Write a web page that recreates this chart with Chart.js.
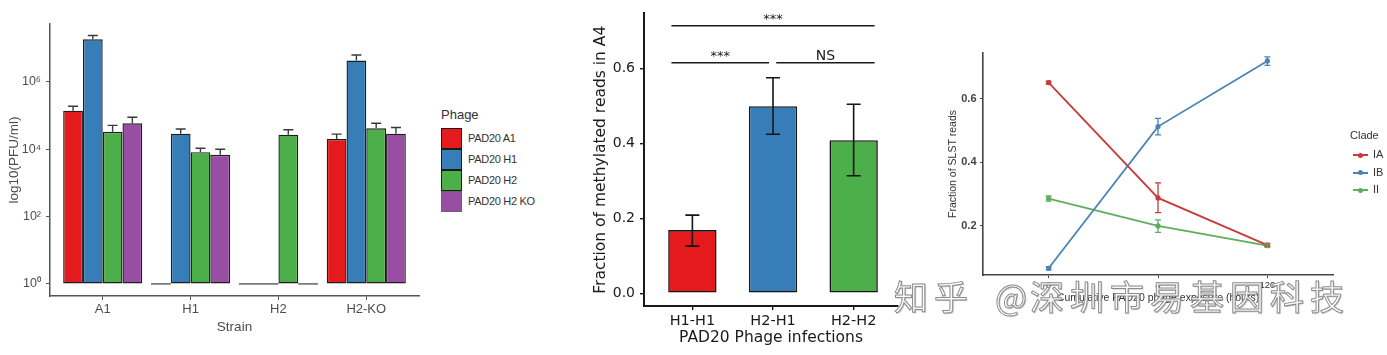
<!DOCTYPE html>
<html><head><meta charset="utf-8">
<script src="https://cdn.jsdelivr.net/npm/chart.js@4.4.0/dist/chart.umd.min.js"></script>
<style>
html,body{margin:0;padding:0;background:#fff;width:1387px;height:355px;overflow:hidden;}
body{position:relative;font-family:"Liberation Sans",Arial,sans-serif;}
canvas{position:absolute;top:0;}
#c1{left:0}
#c2{left:560px}
#c3{left:900px}
.abs{position:absolute;white-space:nowrap;}
#wm{position:absolute;top:279px;left:0;width:1387px;height:40px;z-index:10;font-family:"Noto Sans CJK SC",sans-serif;font-size:34px;line-height:34px;color:rgba(252,252,252,0.95);-webkit-text-stroke:1px #8c8c8c;text-shadow:1px 1px 1px rgba(0,0,0,0.25);}
#wm span{position:absolute;top:0;white-space:nowrap;}
</style></head><body>
<canvas id="c1" width="430" height="355"></canvas>
<canvas id="c2" width="350" height="355"></canvas>
<canvas id="c3" width="487" height="355"></canvas>
<div id="leg1"></div>
<div id="leg3"></div>
<div id="wm"><span style="left:894px;letter-spacing:6px">知乎</span><span style="left:995px">@</span><span style="left:1030px;letter-spacing:6px">深圳市易基因科技</span></div>
<script>
// ---------- Panel 1 data ----------
const strains = ['A1', 'H1', 'H2', 'H2-KO'];
const phages = ['PAD20 A1', 'PAD20 H1', 'PAD20 H2', 'PAD20 H2 KO'];
const pfuA1 = [1.4e5, 1, 1, 2.0e4];
const pfuH1 = [1.85e7, 2.9e4, 1, 4.3e6];
const pfuH2 = [3.3e4, 8.2e3, 2.7e4, 4.2e4];
const pfuH2KO = [5.9e4, 6.8e3, 1, 2.9e4];
const pfuA1Err = [1.9e5, null, null, 2.8e4];
const pfuH1Err = [2.4e7, 4.0e4, null, 6.3e6];
const pfuH2Err = [5.1e4, 1.07e4, 3.8e4, 5.9e4];
const pfuH2KOErr = [8.9e4, 1.0e4, null, 4.4e4];
const logTicks = [1, 1e2, 1e4, 1e6];

// ---------- Panel 2 data ----------
const infections = ['H1-H1', 'H2-H1', 'H2-H2'];
const methFrac = [0.169, 0.500, 0.409];
const methLow = [0.126, 0.425, 0.314];
const methHigh = [0.209, 0.576, 0.505];
const methTicks = [0, 0.2, 0.4, 0.6];
const sigFrom = [-0.26, -0.26, 1.04];
const sigTo = [2.26, 0.95, 2.26];
const sigY = [0.715, 0.616, 0.616];
const sigLabels = ['***', '***', 'NS'];

// ---------- Panel 3 data ----------
const doses = ['0', '4', '120'];
const clades = ['IA', 'IB', 'II'];
const slstIA = [0.650, 0.288, 0.140];
const slstIALow = [0.645, 0.242, 0.135];
const slstIAHigh = [0.655, 0.335, 0.145];
const slstIB = [0.067, 0.512, 0.718];
const slstIBLow = [0.062, 0.486, 0.704];
const slstIBHigh = [0.072, 0.538, 0.731];
const slstII = [0.286, 0.200, 0.138];
const slstIILow = [0.278, 0.180, 0.133];
const slstIIHigh = [0.294, 0.219, 0.143];
const slstTicks = [0.2, 0.4, 0.6];

const set1 = ['#E41A1C', '#377EB8', '#4DAF4A', '#984EA3'];
const cladeColors = ['#C93A3A', '#4A84B5', '#5DAE5D'];
const SANS = '"Liberation Sans", Arial, sans-serif';
const DEJAVU = '"DejaVu Sans", sans-serif';

// ---------- plugins ----------
const errorBarPlugin = {
  id: 'errbars',
  afterDatasetsDraw(chart) {
    const ctx = chart.ctx, ys = chart.scales.y;
    chart.data.datasets.forEach((ds, di) => {
      const st = ds.errStyle; if (!st) return;
      const meta = chart.getDatasetMeta(di);
      meta.data.forEach((el, i) => {
        const hi = ds.errHigh ? ds.errHigh[i] : null;
        const lo = ds.errLow ? ds.errLow[i] : null;
        if (hi == null && lo == null) return;
        const x = el.x;
        const yTop = hi != null ? ys.getPixelForValue(hi) : el.y;
        const yBot = lo != null ? ys.getPixelForValue(lo) : el.y;
        const c = st.cap / 2;
        ctx.save();
        ctx.strokeStyle = st.color || ds.borderColor;
        ctx.lineWidth = st.width;
        ctx.beginPath();
        ctx.moveTo(x, yTop); ctx.lineTo(x, yBot);
        ctx.moveTo(x - c, yTop); ctx.lineTo(x + c, yTop);
        if (lo != null) { ctx.moveTo(x - c, yBot); ctx.lineTo(x + c, yBot); }
        ctx.stroke();
        ctx.restore();
      });
    });
  }
};

const floorLinePlugin = {
  id: 'floorLine',
  afterDatasetsDraw(chart) {
    const ctx = chart.ctx, ys = chart.scales.y;
    const yb = ys.getPixelForValue(1);
    ctx.save();
    ctx.strokeStyle = '#7a7a7a';
    ctx.lineWidth = 1.6;
    ctx.beginPath();
    chart.data.datasets.forEach((ds, di) => {
      const meta = chart.getDatasetMeta(di);
      meta.data.forEach((el, i) => {
        if (ds.data[i].y <= 1) {
          ctx.moveTo(el.x - el.width / 2, yb);
          ctx.lineTo(el.x + el.width / 2, yb);
        }
      });
    });
    ctx.stroke();
    ctx.restore();
  }
};

const bracketPlugin = {
  id: 'brackets',
  afterDatasetsDraw(chart) {
    const ctx = chart.ctx, xs = chart.scales.x, ys = chart.scales.y;
    ctx.save();
    ctx.strokeStyle = '#1a1a1a';
    ctx.fillStyle = '#1a1a1a';
    ctx.lineWidth = 1.6;
    ctx.textAlign = 'center';
    ctx.textBaseline = 'alphabetic';
    sigLabels.forEach((lab, k) => {
      const x1 = xs.getPixelForValue(sigFrom[k]);
      const x2 = xs.getPixelForValue(sigTo[k]);
      const y = ys.getPixelForValue(sigY[k]);
      ctx.beginPath(); ctx.moveTo(x1, y); ctx.lineTo(x2, y); ctx.stroke();
      ctx.font = (lab === 'NS' ? '14px ' : '13px ') + DEJAVU;
      ctx.fillText(lab, (x1 + x2) / 2, y - 3);
    });
    ctx.restore();
  }
};

const sup = {'0': '⁰', '2': '²', '4': '⁴', '6': '⁶', '8': '⁸'};

// ---------- Chart 1 ----------
const pfuSeries = [pfuA1, pfuH1, pfuH2, pfuH2KO];
const pfuErr = [pfuA1Err, pfuH1Err, pfuH2Err, pfuH2KOErr];
new Chart(document.getElementById('c1'), {
  type: 'bar',
  data: {
    datasets: phages.map((name, k) => ({
      label: name,
      data: pfuSeries[k].map((v, i) => ({x: i, y: v})),
      base: 1,
      backgroundColor: set1[k],
      borderColor: '#1e1e1e',
      borderWidth: 1.4,
      borderSkipped: false,
      errHigh: pfuErr[k],
      errStyle: {color: '#3a3a3a', width: 1.4, cap: 10}
    }))
  },
  options: {
    responsive: false, animation: false,
    layout: {padding: {left: 0, right: 11, top: 24, bottom: 0}},
    plugins: {legend: {display: false}, tooltip: {enabled: false}},
    datasets: {bar: {categoryPercentage: 0.9, barPercentage: 1}},
    scales: {
      x: {
        type: 'linear', min: -0.6, max: 3.6, offset: false,
        afterFit: s => { s.height = 59; },
        afterBuildTicks: s => { s.ticks = strains.map((_, i) => ({value: i})); },
        ticks: {callback: v => strains[v], font: {family: SANS, size: 13}, color: '#4d4d4d', padding: 2, maxRotation: 0, autoSkip: false},
        grid: {offset: false, drawOnChartArea: false, drawTicks: true, tickLength: 4, color: '#555', lineWidth: 1},
        border: {display: true, color: '#555', width: 1.5},
        title: {display: true, text: 'Strain', font: {family: SANS, size: 13.5}, color: '#4d4d4d', padding: {top: 0, bottom: 19.9}}
      },
      y: {
        type: 'logarithmic', min: Math.pow(10, -0.36), max: Math.pow(10, 7.72),
        afterFit: s => { s.width = 50; },
        afterBuildTicks: s => { s.ticks = logTicks.map(v => ({value: v})); },
        ticks: {callback: v => '10' + sup[String(Math.round(Math.log10(v)))], font: {family: SANS, size: 12.5}, color: '#4d4d4d', padding: 5, autoSkip: false},
        grid: {drawOnChartArea: false, drawTicks: true, tickLength: 4, color: '#555', lineWidth: 1},
        border: {display: true, color: '#555', width: 1.5},
        title: {display: true, text: 'log10(PFU/ml)', font: {family: SANS, size: 13.5}, color: '#4d4d4d', padding: {top: 6, bottom: 0}}
      }
    }
  },
  plugins: [floorLinePlugin, errorBarPlugin]
});

// legend 1 (HTML)
(function () {
  const leg = document.getElementById('leg1');
  let h = '<div class="abs" style="left:441px;top:107px;font-size:13px;color:#333;">Phage</div>';
  phages.forEach((p, k) => {
    const top = 128 + k * 21;
    h += '<div class="abs" style="left:441px;top:' + top + 'px;width:19px;height:19px;background:' + set1[k] + ';border:1px solid ' + (k === 3 ? '#666' : '#1a1a1a') + ';"></div>';
    h += '<div class="abs" style="left:468px;top:' + (top + 4) + 'px;font-size:11px;color:#333;letter-spacing:-0.3px;">' + p + '</div>';
  });
  leg.innerHTML = h;
})();

// ---------- Chart 2 ----------
new Chart(document.getElementById('c2'), {
  type: 'bar',
  data: {
    datasets: [{
      label: 'Fraction',
      data: methFrac.map((v, i) => ({x: i, y: v})),
      backgroundColor: set1.slice(0, 3),
      borderColor: '#151515',
      borderWidth: 1.6,
      borderSkipped: false,
      errLow: methLow, errHigh: methHigh,
      errStyle: {color: '#151515', width: 1.6, cap: 14}
    }]
  },
  options: {
    responsive: false, animation: false,
    layout: {padding: {left: 0, right: 12, top: 13, bottom: 0}},
    plugins: {legend: {display: false}, tooltip: {enabled: false}},
    datasets: {bar: {categoryPercentage: 1, barPercentage: 0.6}},
    scales: {
      x: {
        type: 'linear', min: -0.6, max: 2.55, offset: false,
        afterFit: s => { s.height = 49; },
        afterBuildTicks: s => { s.ticks = infections.map((_, i) => ({value: i})); },
        ticks: {callback: v => infections[v], font: {family: DEJAVU, size: 14.5}, color: '#1a1a1a', padding: 2.5, maxRotation: 0, autoSkip: false},
        grid: {offset: false, drawOnChartArea: false, drawTicks: true, tickLength: 4, color: '#1a1a1a', lineWidth: 1.4},
        border: {display: true, color: '#1a1a1a', width: 2},
        title: {display: true, text: 'PAD20 Phage infections', font: {family: DEJAVU, size: 15.5}, color: '#1a1a1a', padding: {top: 0, bottom: 8}}
      },
      y: {
        type: 'linear', min: -0.034, max: 0.748,
        afterFit: s => { s.width = 84; },
        afterBuildTicks: s => { s.ticks = methTicks.map(v => ({value: v})); },
        ticks: {callback: v => v.toFixed(1), font: {family: DEJAVU, size: 14}, color: '#1a1a1a', padding: 5, autoSkip: false},
        grid: {drawOnChartArea: false, drawTicks: true, tickLength: 4, color: '#1a1a1a', lineWidth: 1.4},
        border: {display: true, color: '#1a1a1a', width: 2},
        title: {display: true, text: 'Fraction of methylated reads in A4', font: {family: DEJAVU, size: 15.5}, color: '#1a1a1a', padding: {top: 32, bottom: 0}}
      }
    }
  },
  plugins: [errorBarPlugin, bracketPlugin]
});

// ---------- Chart 3 ----------
const slstVals = [slstIA, slstIB, slstII];
const slstLow = [slstIALow, slstIBLow, slstIILow];
const slstHigh = [slstIAHigh, slstIBHigh, slstIIHigh];
new Chart(document.getElementById('c3'), {
  type: 'line',
  data: {
    datasets: clades.map((c, k) => ({
      label: c,
      data: slstVals[k].map((v, i) => ({x: i, y: v})),
      borderColor: cladeColors[k],
      backgroundColor: cladeColors[k],
      borderWidth: 1.8,
      pointRadius: 2.6,
      pointBorderWidth: 0,
      pointBackgroundColor: cladeColors[k],
      tension: 0,
      errLow: slstLow[k], errHigh: slstHigh[k],
      errStyle: {color: cladeColors[k], width: 1.3, cap: 6}
    }))
  },
  options: {
    responsive: false, animation: false,
    layout: {padding: {left: 0, right: 54, top: 53, bottom: 0}},
    plugins: {legend: {display: false}, tooltip: {enabled: false}},
    scales: {
      x: {
        type: 'linear', min: -0.6, max: 2.6, offset: false,
        afterFit: s => { s.height = 80; },
        afterBuildTicks: s => { s.ticks = doses.map((_, i) => ({value: i})); },
        ticks: {callback: v => doses[v], font: {family: SANS, size: 9.5}, color: '#333', padding: 1.5, maxRotation: 0, autoSkip: false},
        grid: {drawOnChartArea: false, drawTicks: true, tickLength: 3, color: '#444', lineWidth: 1},
        border: {display: true, color: '#444', width: 1.6},
        title: {display: true, text: 'Cumulative PAD20 phage exposure (hours)', font: {family: SANS, size: 10.5}, color: '#333', padding: {top: 0, bottom: 50.7}}
      },
      y: {
        type: 'linear', min: 0.046, max: 0.743,
        afterFit: s => { s.width = 83; },
        afterBuildTicks: s => { s.ticks = slstTicks.map(v => ({value: v})); },
        ticks: {callback: v => v.toFixed(1), font: {family: SANS, size: 11, weight: 'bold'}, color: '#444', padding: 3.5, autoSkip: false},
        grid: {drawOnChartArea: false, drawTicks: true, tickLength: 3, color: '#444', lineWidth: 1},
        border: {display: true, color: '#444', width: 1.6},
        title: {display: true, text: 'Fraction of SLST reads', font: {family: SANS, size: 10.5}, color: '#333', padding: {top: 46.7, bottom: 0}}
      }
    }
  },
  plugins: [errorBarPlugin]
});

// legend 3 (HTML)
(function () {
  const leg = document.getElementById('leg3');
  let h = '<div class="abs" style="left:1350px;top:129px;font-size:11px;color:#333;">Clade</div>';
  clades.forEach((c, k) => {
    const cy = [155.3, 172.7, 190][k];
    h += '<div class="abs" style="left:1353px;top:' + (cy - 1) + 'px;width:15px;height:2px;background:' + cladeColors[k] + ';"></div>';
    h += '<div class="abs" style="left:1358px;top:' + (cy - 2.5) + 'px;width:5px;height:5px;border-radius:50%;background:' + cladeColors[k] + ';"></div>';
    h += '<div class="abs" style="left:1373px;top:' + (cy - 7) + 'px;font-size:11px;color:#333;">' + c + '</div>';
  });
  leg.innerHTML = h;
})();
</script>
</body></html>
